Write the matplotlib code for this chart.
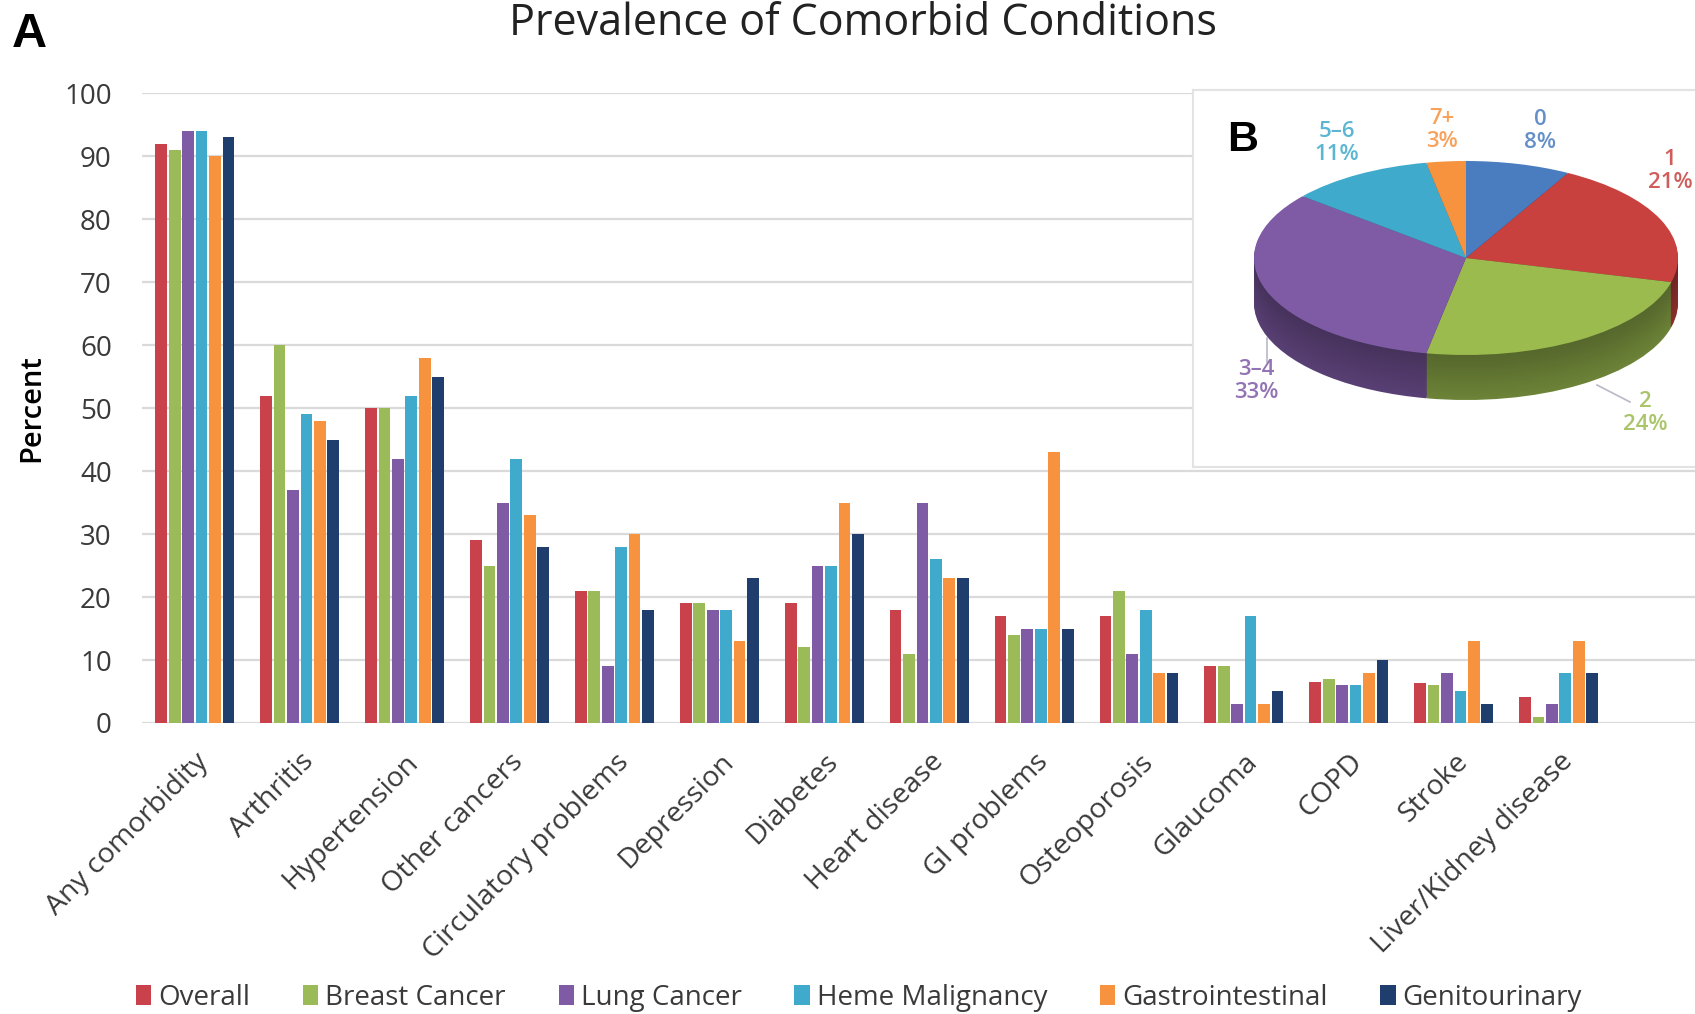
import matplotlib.pyplot as plt
import numpy as np

plt.rcParams['font.family'] = ['Open Sans', 'DejaVu Sans']

# Comorbidity prevalence by cancer group (percent)
conditions = ['Any comorbidity', 'Arthritis', 'Hypertension', 'Other cancers',
              'Circulatory problems', 'Depression', 'Diabetes', 'Heart disease',
              'GI problems', 'Osteoporosis', 'Glaucoma', 'COPD', 'Stroke',
              'Liver/Kidney disease']
groups = ['Overall', 'Breast Cancer', 'Lung Cancer', 'Heme Malignancy',
          'Gastrointestinal', 'Genitourinary']
overall = [92, 52, 50, 29, 21, 19, 19, 18, 17, 17, 9, 6.5, 6.3, 4.2]
breast = [91, 60, 50, 25, 21, 19, 12, 11, 14, 21, 9, 7, 6, 1]
lung = [94, 37, 42, 35, 9, 18, 25, 35, 15, 11, 3, 6, 8, 3]
heme = [94, 49, 52, 42, 28, 18, 25, 26, 15, 18, 17, 6, 5, 8]
gastro = [90, 48, 58, 33, 30, 13, 35, 23, 43, 8, 3, 8, 13, 13]
genito = [93, 45, 55, 28, 18, 23, 30, 23, 15, 8, 5, 10, 3, 8]
bar_colors = ['#C8414B', '#9BBB59', '#7F5BA6', '#3FAACB', '#F7923E', '#1F3E6E']

# Number of comorbid conditions (pie)
count_labels = ['0', '1', '2', '3–4', '5–6', '7+']
count_pct = [8, 21, 24, 33, 11, 3]
pie_colors = ['#4A7CC0', '#C8413F', '#9BBB4F', '#7F5BA6', '#3FAACB', '#F7923E']

fig = plt.figure(figsize=(16.95, 10.14), dpi=100)
ax = fig.add_axes([0.084, 0.287, 0.916, 0.621])

x = np.arange(len(conditions))
step = 0.128
width = 0.112
series = [overall, breast, lung, heme, gastro, genito]
for i, (vals, name, c) in enumerate(zip(series, groups, bar_colors)):
    ax.bar(x + (i - 2.5) * step, vals, width=width, color=c, label=name, zorder=3)

ax.set_xlim(-0.5, 14.3)
ax.set_ylim(0, 100)
ax.set_yticks(range(0, 101, 10))
ax.yaxis.grid(True, color='#DADADA', linewidth=1.6, zorder=0)
for s in ax.spines.values():
    s.set_visible(False)
ax.tick_params(axis='y', length=0, labelsize=20, labelcolor='#3A3A3A', pad=22)
ax.set_xticks(x)
ax.set_xticklabels(conditions, rotation=45, ha='right', rotation_mode='anchor',
                   fontsize=20.5, color='#3A3A3A')
ax.tick_params(axis='x', length=0, pad=18)
ax.set_ylabel('Percent', fontsize=21, fontweight='semibold')
ax.yaxis.set_label_coords(-0.062, 0.5)

fig.text(0.509, 0.977, 'Prevalence of Comorbid Conditions', ha='center', va='center',
         fontsize=31, color='#222222')
fig.text(0.007, 0.966, 'A', fontsize=35, fontweight='bold', family='Liberation Sans',
         ha='left', va='center')

ax.legend(loc='center left', bbox_to_anchor=(0.0655, 0.016), bbox_transform=fig.transFigure,
          ncol=6, frameon=False, fontsize=20, handlelength=0.55, handleheight=0.75,
          handletextpad=0.25, columnspacing=1.9, labelcolor='#3A3A3A')

# Inset B: pseudo-3D pie in a boxed panel
W, H = 1695, 1014
bx0, by0, bx1, by1 = 1193, 90, 1712, 467
cx, cy, rx, ry = 1466, 258, 212, 97
pax = fig.add_axes([bx0 / W, 1 - by1 / H, (bx1 - bx0) / W, (by1 - by0) / H])


def shade(c, f):
    r, g, b = plt.matplotlib.colors.to_rgb(c)
    return (r * f, g * f, b * f)


# side wall: stacked darker copies shifted down, then the top face
depth = 45 / ry
n_layers = 30
for k in range(n_layers, 0, -1):
    f = 0.55 + 0.15 * (k / n_layers)
    pax.pie(count_pct, colors=[shade(c, f) for c in pie_colors], startangle=90,
            counterclock=False, center=(0, -depth * k / n_layers), radius=1,
            wedgeprops=dict(linewidth=0), frame=True)
pax.pie(count_pct, colors=pie_colors, startangle=90, counterclock=False,
        center=(0, 0), radius=1, wedgeprops=dict(linewidth=0), frame=True)
pax.set_xlim((bx0 - cx) / rx, (bx1 - cx) / rx)
pax.set_ylim((cy - by1) / ry, (cy - by0) / ry)
pax.set_aspect('auto')
pax.set_xticks([])
pax.set_yticks([])
for s in pax.spines.values():
    s.set_color('#E3E3E3')
    s.set_linewidth(1.5)

label_pos = [(1540, 131), (1670, 171), (1645, 413), (1256, 381), (1337, 143), (1442, 130)]
for lab, pct, c, (px, py) in zip(count_labels, count_pct, pie_colors, label_pos):
    pax.text((px - cx) / rx, (cy - py) / ry, f'{lab}\n{pct}%', ha='center', va='center',
             fontsize=16, fontweight='semibold', color=c, alpha=0.85, linespacing=1.1)
# leader lines
pax.plot([(1267 - cx) / rx, (1267 - cx) / rx], [(cy - 338) / ry, (cy - 362) / ry],
         color='#B8B8C8', linewidth=1.2)
pax.plot([(1597 - cx) / rx, (1630 - cx) / rx], [(cy - 385) / ry, (cy - 402) / ry],
         color='#B8B8C8', linewidth=1.2)
fig.text(1243 / W, 1 - 140 / H, 'B', fontsize=31, fontweight='bold',
         family='Liberation Sans', ha='center', va='center')

fig.savefig('out.png', dpi=100)
